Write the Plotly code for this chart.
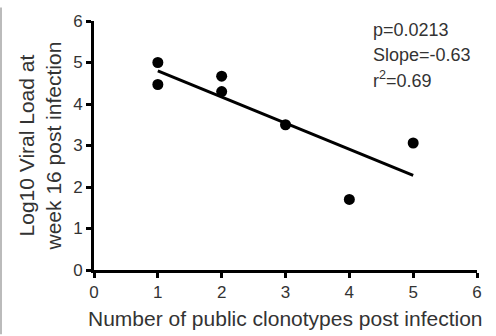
import plotly.graph_objects as go

# Data
clonotypes = [1, 1, 2, 2, 3, 4, 5]
viral_load = [5.0, 4.47, 4.67, 4.3, 3.5, 1.7, 3.06]
fit_x = [1, 5]
fit_slope = -0.63
fit_intercept = 5.43
fit_y = [fit_intercept + fit_slope * v for v in fit_x]
tick_vals = [0, 1, 2, 3, 4, 5, 6]
stats_lines = ["p=0.0213", "Slope=-0.63", "r<sup>2</sup>=0.69"]

FONT = "Liberation Sans, Arial, sans-serif"
L, R, T, B = 94, 19, 14, 66
PW, PH = 496 - L - R, 336 - T - B

fig = go.Figure()
fig.add_trace(go.Scatter(x=fit_x, y=fit_y, mode="lines",
                         line=dict(color="black", width=3), cliponaxis=False,
                         showlegend=False, hoverinfo="skip"))
fig.add_trace(go.Scatter(x=clonotypes, y=viral_load, mode="markers",
                         marker=dict(color="black", size=11), cliponaxis=False,
                         showlegend=False))

axis_common = dict(range=[0, 6], tickvals=tick_vals, showgrid=False, zeroline=False,
                   showline=True, linecolor="black", linewidth=3,
                   ticks="outside", ticklen=5, tickwidth=2.5, tickcolor="black",
                   tickfont=dict(family=FONT, size=17, color="#333"))
fig.update_xaxes(**axis_common)
fig.update_yaxes(**axis_common)

fig.update_layout(
    width=496, height=336,
    margin=dict(l=L, r=R, t=T, b=B),
    paper_bgcolor="white", plot_bgcolor="white",
    font=dict(family=FONT, color="#333"),
)

# Axis titles
fig.add_annotation(text="Log10 Viral Load at<br>week 16 post infection",
                   xref="paper", yref="paper", x=(40 - L) / PW, y=(270 - 143) / PH,
                   xanchor="center", yanchor="middle", textangle=-90,
                   showarrow=False, font=dict(family=FONT, size=21, color="#333"))
fig.add_annotation(text="Number of public clonotypes post infection",
                   xref="paper", yref="paper", x=(285 - L) / PW, y=-(320 - 270) / PH,
                   xanchor="center", yanchor="middle",
                   showarrow=False, font=dict(family=FONT, size=21, color="#333"))

# Stats text
stat_centers = [23, 49, 74]
for s, cy in zip(stats_lines, stat_centers):
    fig.add_annotation(text=s, xref="paper", yref="paper",
                       x=(371 - L) / PW, y=(270 - cy) / PH,
                       xanchor="left", yanchor="middle", showarrow=False,
                       font=dict(family=FONT, size=18, color="#333"))

# Left edge grey border
fig.add_shape(type="line", xref="paper", yref="paper",
              x0=-(L - 1) / PW, x1=-(L - 1) / PW, y0=-B / PH, y1=1 + T / PH,
              line=dict(color="#bbb", width=2))

fig.write_html("out.html", config={"displayModeBar": False},
               post_script="document.body.style.margin='0';")
